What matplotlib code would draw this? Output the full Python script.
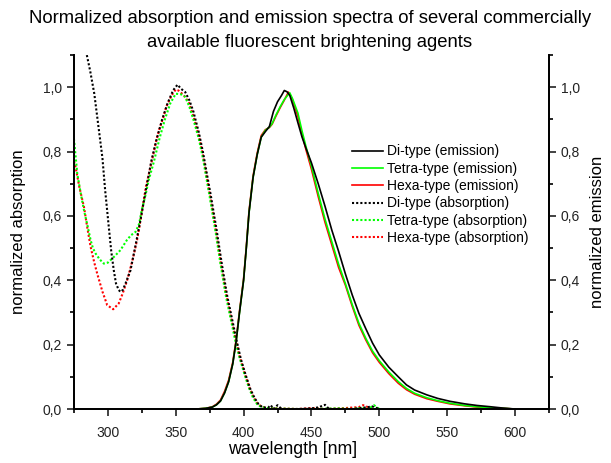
import matplotlib
matplotlib.use("Agg")
import matplotlib.pyplot as plt
from matplotlib.ticker import MultipleLocator, FuncFormatter

plt.rcParams['font.family'] = ['Liberation Sans', 'DejaVu Sans']

# emission spectra (solid lines)
di_em_wl = [350, 365, 372, 377, 380, 383, 386, 389, 392, 394.5, 397, 400, 402, 404, 407, 410, 413, 416, 419,
            422, 425, 428, 430, 432, 434, 437, 440, 443, 446, 450, 455, 460, 465, 470, 475, 480, 485, 490,
            495, 500, 507, 514, 520, 526, 535, 543, 552, 563, 572, 582, 591, 600]
di_em = [0, 0, 0.002, 0.006, 0.013, 0.025, 0.05, 0.085, 0.14, 0.21, 0.30, 0.40, 0.50, 0.61, 0.72, 0.79, 0.845,
         0.862, 0.878, 0.925, 0.955, 0.975, 0.99, 0.986, 0.975, 0.935, 0.89, 0.846, 0.81, 0.765, 0.70, 0.63,
         0.556, 0.49, 0.42, 0.355, 0.297, 0.25, 0.205, 0.168, 0.13, 0.10, 0.075, 0.059, 0.044, 0.033, 0.024,
         0.016, 0.011, 0.007, 0.003, 0.0]

tetra_em_wl = [350, 365, 372, 377, 380, 383, 386, 389, 392, 394.5, 397, 400, 402, 404, 407, 410, 413, 416, 419,
               421, 424, 427, 430, 434, 436, 440, 443, 446, 450, 455, 460, 465, 470, 475, 480, 485, 490, 495,
               500, 507, 514, 520, 526, 535, 543, 552, 563, 572, 582, 591, 600]
tetra_em = [0, 0, 0.002, 0.006, 0.013, 0.025, 0.05, 0.085, 0.14, 0.21, 0.30, 0.40, 0.50, 0.61, 0.72, 0.79,
            0.845, 0.866, 0.876, 0.887, 0.915, 0.94, 0.962, 0.983, 0.965, 0.92, 0.865, 0.815, 0.755, 0.67,
            0.59, 0.52, 0.45, 0.39, 0.325, 0.266, 0.22, 0.18, 0.15, 0.115, 0.085, 0.064, 0.049, 0.035, 0.026,
            0.018, 0.011, 0.007, 0.004, 0.002, 0.0]

hexa_em_wl = [350, 365, 372, 377, 380, 383, 386, 389, 392, 394.5, 397, 400, 402, 404, 407, 410, 413, 416, 419,
              421, 424, 427, 430, 433, 436, 440, 443, 446, 450, 455, 460, 465, 470, 475, 480, 485, 490, 495,
              500, 507, 514, 520, 526, 535, 543, 552, 563, 572, 582, 591, 600]
hexa_em = [0, 0, 0.002, 0.007, 0.015, 0.028, 0.055, 0.09, 0.145, 0.215, 0.305, 0.405, 0.505, 0.615, 0.725,
           0.795, 0.85, 0.868, 0.875, 0.885, 0.912, 0.937, 0.96, 0.985, 0.962, 0.91, 0.855, 0.805, 0.745,
           0.66, 0.58, 0.51, 0.44, 0.385, 0.32, 0.26, 0.215, 0.175, 0.145, 0.11, 0.08, 0.06, 0.046, 0.032,
           0.024, 0.016, 0.01, 0.006, 0.004, 0.002, 0.0]

# absorption spectra (dotted lines)
di_abs_wl = [284.5, 287, 290, 293, 296, 298, 300.7, 302.5, 304.4, 306, 308, 309.3, 311, 313, 316.6, 320, 324,
             328, 332, 336, 340, 344, 348, 351.3, 354, 357, 360, 363, 367, 370, 376, 380, 384, 388, 391,
             394.5, 398, 401.6, 405, 408, 411, 414, 418, 420, 422, 425, 428, 440, 450, 455, 460, 463, 480,
             490, 495, 500]
di_abs = [1.1, 1.05, 0.98, 0.88, 0.78, 0.68, 0.565, 0.49, 0.43, 0.39, 0.37, 0.364, 0.37, 0.39, 0.43, 0.50,
          0.587, 0.68, 0.77, 0.84, 0.9, 0.95, 0.99, 1.008, 0.995, 0.985, 0.96, 0.925, 0.86, 0.80, 0.66, 0.56,
          0.45, 0.35, 0.29, 0.22, 0.155, 0.105, 0.062, 0.035, 0.015, 0.005, 0.004, 0.012, 0.0, 0.012, 0.0,
          0.0, 0.002, 0.005, 0.013, 0.0, 0.0, 0.005, 0.008, 0.0]

tetra_abs_wl = [275, 277.5, 280, 282.4, 285, 287.3, 289, 291, 294, 297, 300, 302, 305, 309.3, 314, 317,
                320.3, 323, 325, 328, 330, 334, 338, 342, 346, 350, 354, 357, 360, 363, 367, 370, 375, 379,
                383, 387, 390, 393.5, 397, 400.5, 404, 407, 410, 413, 417, 420, 440, 450, 470, 480, 487,
                492, 496, 500]
tetra_abs = [0.84, 0.73, 0.67, 0.618, 0.57, 0.525, 0.5, 0.483, 0.465, 0.452, 0.455, 0.463, 0.475, 0.494, 0.525,
             0.54, 0.55, 0.575, 0.618, 0.67, 0.71, 0.77, 0.84, 0.9, 0.95, 0.98, 0.978, 0.97, 0.94, 0.9, 0.84,
             0.78, 0.66, 0.56, 0.45, 0.35, 0.29, 0.22, 0.16, 0.11, 0.065, 0.035, 0.015, 0.006, 0.003, 0.002,
             0.0, 0.0, 0.002, 0.0, 0.004, 0.0, 0.012, 0.0]

hexa_abs_wl = [275, 276.3, 279, 282.4, 285, 287.3, 290, 292.2, 296, 299.5, 303.9, 308, 311, 314.2, 318,
               321.5, 325, 328, 332.5, 335.7, 338, 341, 343, 347, 350, 352, 356, 360, 363, 367, 370, 375, 379,
               383, 387, 390, 393.5, 397, 400.5, 404, 407, 410, 413, 417, 440, 450, 460, 475, 485, 488, 495,
               500]
hexa_abs = [0.77, 0.75, 0.69, 0.628, 0.56, 0.504, 0.455, 0.42, 0.365, 0.323, 0.31, 0.328, 0.36, 0.40, 0.46,
            0.525, 0.61, 0.69, 0.773, 0.835, 0.87, 0.908, 0.939, 0.975, 0.993, 0.99, 0.975, 0.95, 0.91, 0.85,
            0.79, 0.67, 0.57, 0.46, 0.36, 0.30, 0.23, 0.165, 0.115, 0.07, 0.04, 0.018, 0.008, 0.003, 0.0,
            0.003, 0.0, 0.003, 0.006, 0.012, 0.0, 0.0]

fig = plt.figure(figsize=(6.11, 4.63), dpi=100)
ax = fig.add_axes([0.121, 0.1166, 0.7775, 0.7644])

# draw red first so green and black sit on top, like the original
l_hexa_abs, = ax.plot(hexa_abs_wl, hexa_abs, color='red', lw=1.5, dashes=(1, 1))
l_tetra_abs, = ax.plot(tetra_abs_wl, tetra_abs, color='#00ff00', lw=1.5, dashes=(1, 1))
l_di_abs, = ax.plot(di_abs_wl, di_abs, color='black', lw=1.5, dashes=(1, 1))
l_hexa_em, = ax.plot(hexa_em_wl, hexa_em, color='red', lw=1.2)
l_tetra_em, = ax.plot(tetra_em_wl, tetra_em, color='#00ff00', lw=1.2)
l_di_em, = ax.plot(di_em_wl, di_em, color='black', lw=1.2)

ax.set_xlim(275, 625)
ax.set_ylim(0, 1.1)

comma = FuncFormatter(lambda v, p: ('%.1f' % v).replace('.', ','))

ax2 = ax.twinx()
ax2.set_ylim(0, 1.1)

for a in (ax, ax2):
    a.spines['top'].set_visible(False)
    for s in a.spines.values():
        s.set_linewidth(1.3)
    a.yaxis.set_major_locator(MultipleLocator(0.2))
    a.yaxis.set_minor_locator(MultipleLocator(0.1))
    a.yaxis.set_major_formatter(comma)
    a.tick_params(which='major', direction='out', length=5, width=1.2, labelsize=10, colors='#222222')
    a.tick_params(which='minor', direction='out', length=3, width=1.2)

ax.xaxis.set_major_locator(MultipleLocator(50))
ax.xaxis.set_minor_locator(MultipleLocator(25))
ax.tick_params(axis='x', which='major', pad=7)

ax.set_xlabel('wavelength [nm]', fontsize=12.8)
ax.xaxis.set_label_coords(0.461, -0.09)
ax.set_ylabel('normalized absorption', fontsize=12)
ax.yaxis.set_label_coords(-0.101, 0.5)
ax2.set_ylabel('normalized emission', fontsize=12)
ax2.yaxis.set_label_coords(1.086, 0.5)

ax.legend([l_di_em, l_tetra_em, l_hexa_em, l_di_abs, l_tetra_abs, l_hexa_abs],
          ['Di-type (emission)', 'Tetra-type (emission)', 'Hexa-type (emission)',
           'Di-type (absorption)', 'Tetra-type (absorption)', 'Hexa-type (absorption)'],
          loc='upper left', bbox_to_anchor=(0.565, 0.703), bbox_transform=fig.transFigure,
          frameon=False, fontsize=10, handlelength=2.2, handletextpad=0.3, labelspacing=0.24,
          borderpad=0)

fig.suptitle('Normalized absorption and emission spectra of several commercially\n'
             'available fluorescent brightening agents', fontsize=13.3, y=0.978, va='top',
             linespacing=1.5, x=0.507)

fig.savefig('out.png', dpi=100)
